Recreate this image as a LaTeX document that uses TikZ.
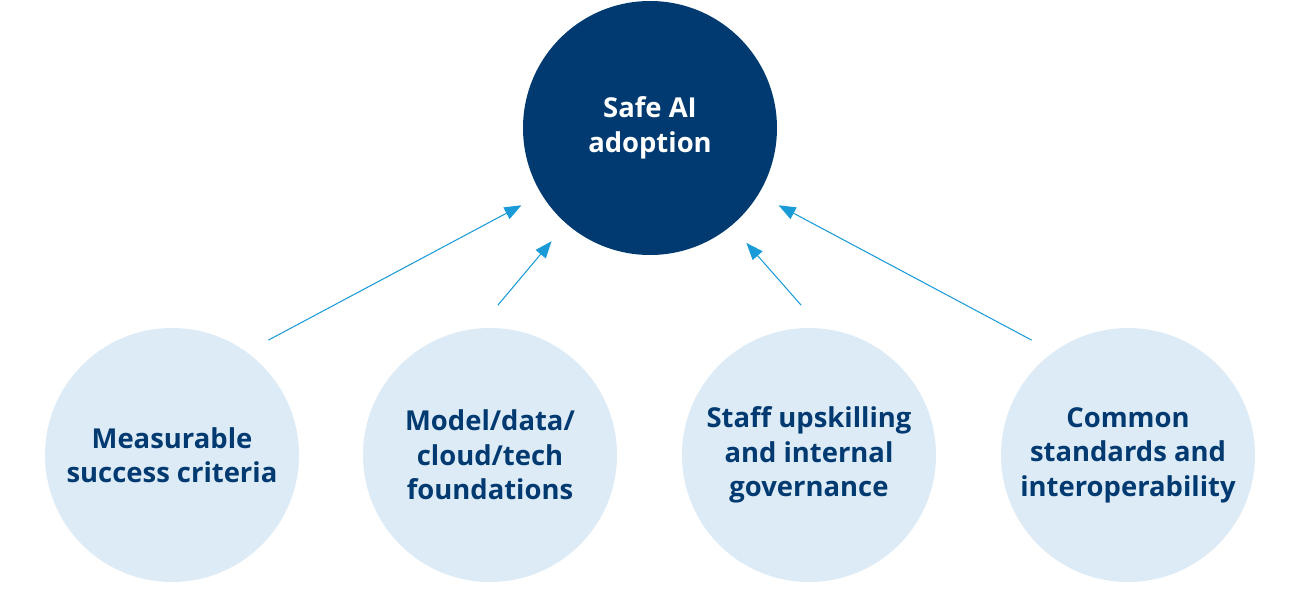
\documentclass[tikz,border=0pt]{standalone}
\usepackage{fontspec}
\setmainfont{Open Sans}
\usepackage{xcolor}
\usepackage{tikz}
\usetikzlibrary{arrows.meta}

\definecolor{navy}{HTML}{003A70}
\definecolor{paleblue}{HTML}{DDEBF7}
\definecolor{arrowblue}{HTML}{1A9BD7}

\tikzset{
    goal/.style={circle, fill=navy, text=white, minimum size=5.08cm, inner sep=0pt,
        outer sep=0.46cm, align=center, font=\fontsize{15.6}{19.6}\selectfont\bfseries},
    factor/.style={circle, fill=paleblue, text=navy, minimum size=5.08cm, inner sep=0pt,
        outer sep=0.46cm, align=center, font=\fontsize{15.6}{19.6}\selectfont\bfseries},
    feed/.style={draw=arrowblue, line width=0.6pt, -{Triangle[length=0.34cm,width=0.26cm]}}
}

\begin{document}
\begin{tikzpicture}
    \useasboundingbox (0,0) rectangle (26,12.14);

    \node[goal] (v0) at (13,9.58) {Safe AI\\adoption};
    \node[factor] (v1) at (3.44,3.04) {Measurable\\success criteria};
    \node[factor] (v2) at (9.8,3.04) {Model/data/\\cloud/tech\\foundations};
    \node[factor] (v3) at (16.18,3.04) {Staff upskilling\\and internal\\governance};
    \node[factor] (v4) at (22.56,3.04) {Common\\standards and\\interoperability};

    \draw[feed] (v1.50) -- (v0.211);
    \draw[feed] (v2.87) -- (v0.229.5);
    \draw[feed] (v3.93) -- (v0.310.5);
    \draw[feed] (v4.130) -- (v0.329);

\end{tikzpicture}
\end{document}
